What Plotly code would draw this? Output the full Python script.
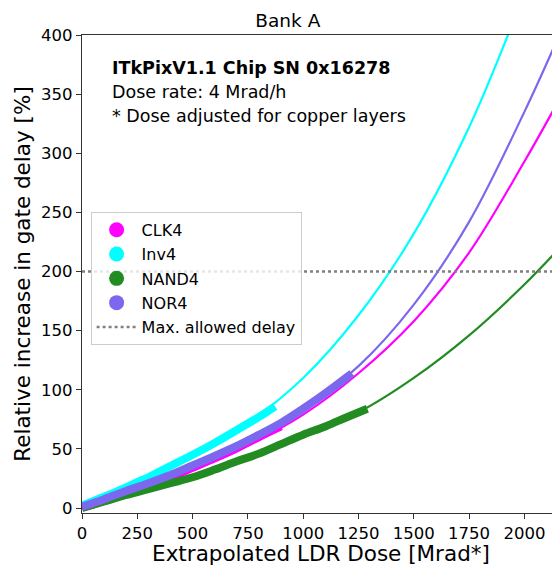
import plotly.graph_objects as go

# ---- data ----
fit_dose = [0, 250, 500, 750, 1000, 1250, 1500, 1750, 2000, 2165]
fit_clk4 = [1, 16, 32, 53, 79, 114, 158, 216, 293, 348]
fit_nor4 = [1, 18, 36, 57, 84, 120, 172, 242, 335, 403]
fit_nand4 = [0, 13.5, 26, 43, 62, 81, 110, 146, 189, 221]
fit_inv4_dose = [0, 250, 500, 750, 1000, 1250, 1500, 1750, 1926, 2000]
fit_inv4 = [1, 22, 45, 72, 110, 163, 232, 322, 400, 436]

inv4_dose = [0, 100, 200, 250, 300, 400, 500, 600, 700, 800, 873]
inv4_val = [2, 9.5, 17.5, 22, 26, 35.5, 45, 55, 66, 77, 86]
clk4_dose = [0, 100, 200, 300, 400, 500, 600, 700, 800, 900]
clk4_val = [0, 6, 12.5, 19, 26, 34, 42, 50.5, 60, 69]
nand4_dose = [0, 100, 200, 300, 400, 500, 600, 700, 800, 900, 1000, 1100, 1200, 1290]
nand4_val = [0, 5.5, 11, 16, 21, 26, 32.5, 39.5, 46, 54, 62, 69, 77, 84]
nor4_dose = [0, 100, 200, 300, 400, 500, 600, 700, 800, 900, 1000, 1100, 1200, 1220]
nor4_val = [1, 7.5, 14.5, 21, 28, 36, 44, 52.5, 62, 72, 84, 97, 111, 114]

max_delay = 200
x_max = 2161

series = [
    ("CLK4", "#ff00ff", clk4_dose, clk4_val, fit_dose, fit_clk4),
    ("Inv4", "#00ffff", inv4_dose, inv4_val, fit_inv4_dose, fit_inv4),
    ("NAND4", "#228b22", nand4_dose, nand4_val, fit_dose, fit_nand4),
    ("NOR4", "#7b68ee", nor4_dose, nor4_val, fit_dose, fit_nor4),
]

fig = go.Figure()

for name, col, dx, dy, fx, fy in series:
    fig.add_trace(go.Scatter(x=fx, y=fy, mode="lines", line=dict(color=col, width=2.2, shape="spline"),
                             showlegend=False, hoverinfo="skip"))
    fig.add_trace(go.Scatter(x=dx, y=dy, mode="lines", line=dict(color=col, width=8, shape="spline"),
                             showlegend=False, hoverinfo="skip"))

for name, col, *_ in series:
    fig.add_trace(go.Scatter(x=[None], y=[None], mode="markers", name=name, legendgroup=name,
                             marker=dict(color=col, size=15)))

fig.add_trace(go.Scatter(x=[0, x_max], y=[max_delay, max_delay], mode="lines", name="Max. allowed delay",
                         legendgroup="max", line=dict(color="#808080", width=2.5, dash="dot")))

ann_font = dict(size=17.5, color="black")
fig.add_annotation(x=0.058, y=0.9305, xref="x domain", yref="y domain", xanchor="left", yanchor="middle",
                   text="<b>ITkPixV1.1 Chip SN 0x16278</b>", showarrow=False, font=ann_font)
fig.add_annotation(x=0.058, y=0.880, xref="x domain", yref="y domain", xanchor="left", yanchor="middle",
                   text="Dose rate: 4 Mrad/h", showarrow=False, font=ann_font)
fig.add_annotation(x=0.058, y=0.831, xref="x domain", yref="y domain", xanchor="left", yanchor="middle",
                   text="* Dose adjusted for copper layers", showarrow=False, font=ann_font)

# the page adds an 8px body margin, so the figure is sized/margined to compensate
fig.update_layout(
    width=552, height=558,
    margin=dict(l=74, r=0, t=27, b=53),
    paper_bgcolor="white", plot_bgcolor="white",
    font=dict(family="DejaVu Sans", color="black", size=16.5),
    title=dict(text="Bank A", x=0.507, xanchor="center", y=0.978, yanchor="middle",
               font=dict(size=18.5)),
    legend=dict(x=0.018, y=0.63, xanchor="left", yanchor="top", bgcolor="rgba(255,255,255,0.8)",
                bordercolor="#cccccc", borderwidth=1, font=dict(size=16), tracegroupgap=0.5,
                itemwidth=40),
    showlegend=True,
)
fig.update_xaxes(range=[0, x_max], tickvals=[0, 250, 500, 750, 1000, 1250, 1500, 1750, 2000],
                 showgrid=False, zeroline=False, showline=True, linecolor="#333333", linewidth=1.2,
                 mirror=True, ticks="outside", ticklen=5, tickcolor="#333333",
                 title=dict(text="Extrapolated LDR Dose [Mrad*]", font=dict(size=21.5), standoff=8))
fig.update_yaxes(range=[-4.2, 400], tickvals=[0, 50, 100, 150, 200, 250, 300, 350, 400],
                 showgrid=False, zeroline=False, showline=True, linecolor="#333333", linewidth=1.2,
                 ticks="outside", ticklen=5, tickcolor="#333333",
                 title=dict(text="Relative increase in gate delay [%]", font=dict(size=21.5), standoff=4))

fig.write_html("out.html")
